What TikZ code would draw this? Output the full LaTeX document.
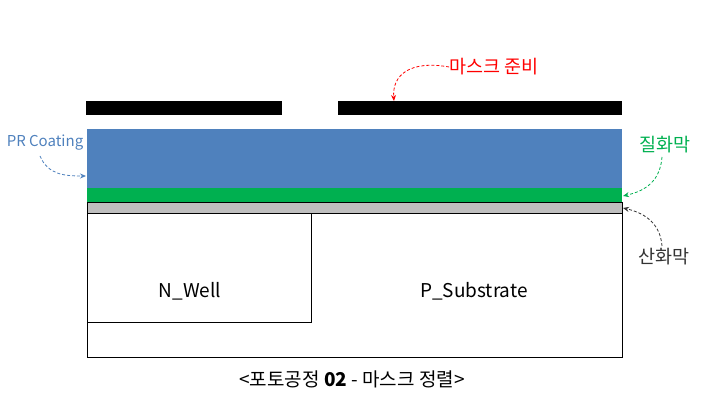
\documentclass[tikz,border=0pt]{standalone}
\usepackage{fontspec}
\setmainfont{Noto Sans CJK KR}
\usetikzlibrary{arrows.meta}
\definecolor{prblue}{HTML}{4F81BD}
\definecolor{nitgreen}{HTML}{00B050}
\definecolor{oxgray}{HTML}{BFBFBF}
\definecolor{maskred}{HTML}{FF0000}
\tikzset{
  layer/.style={draw=black, line width=1pt},
  callout/.style={dash pattern=on 3pt off 2pt, line width=0.8pt, -{Stealth[length=6pt,width=5pt]}},
  lbl/.style={inner sep=0pt, font=\fontsize{15}{18}\selectfont},
}
\begin{document}
\begin{tikzpicture}[x=1pt,y=-1pt]
\useasboundingbox (0,0) rectangle (707,411);
% mask
\fill[black] (86,101) rectangle (282,115);
\fill[black] (338,101) rectangle (622,115);
\coordinate (maskR) at (394,101);
% layers
\fill[prblue] (87,129) rectangle (622,188);
\fill[nitgreen] (87,188) rectangle (622,203);
\draw[layer, fill=oxgray] (87,203) rectangle (622,214);
\draw[layer] (87,214) rectangle (622,358);
\draw[layer] (87,214) rectangle (311,323);
\node[lbl, font=\fontsize{19}{22}\selectfont] (nwell) at (190,291) {N\_Well};
\node[lbl, font=\fontsize{19}{22}\selectfont] (psub) at (474,291) {P\_Substrate};
\coordinate (prL) at (86,176);
\coordinate (nitR) at (623,196);
\coordinate (oxR) at (623,208);
% labels
\node[lbl, text=maskred, font=\fontsize{18.5}{22}\selectfont] (mask) at (494,67) {마스크 준비};
\node[lbl, text=prblue, font=\fontsize{15}{18}\selectfont] (pr) at (45,143) {PR Coating};
\node[lbl, text=nitgreen, font=\fontsize{18.5}{22}\selectfont] (nit) at (665,145) {질화막};
\node[lbl, text=black!80, font=\fontsize{18.5}{22}\selectfont] (ox) at (664,257) {산화막};
% callouts
\draw[callout, maskred] (mask.west) .. controls (410,60) and (392,75) .. (maskR);
\draw[callout, prblue] (40,156) .. controls (48,175) and (65,176) .. (prL);
\draw[callout, nitgreen] (662,157) .. controls (660,185) and (640,192) .. (nitR);
\draw[callout, black!80] (662,246) .. controls (660,220) and (640,212) .. (oxR);
% caption
\node[lbl, font=\fontsize{19}{22}\selectfont] (cap) at (352,379) {<포토공정 \textbf{02} - 마스크 정렬>};
\end{tikzpicture}
\end{document}
